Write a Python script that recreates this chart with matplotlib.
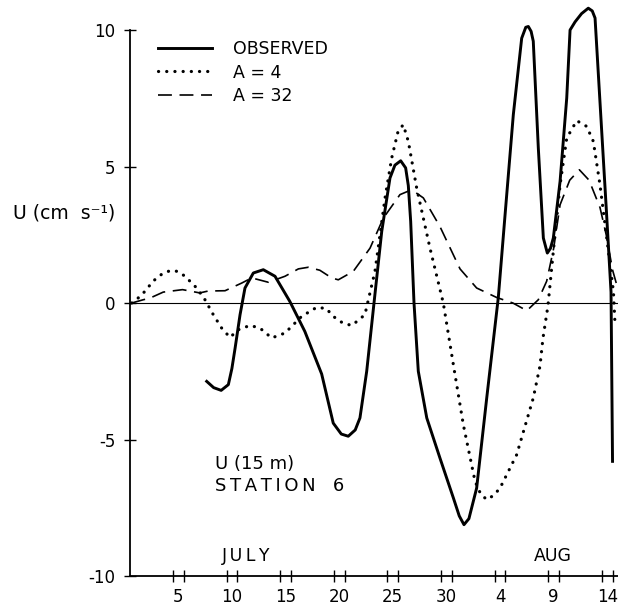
import numpy as np
import matplotlib
matplotlib.use("Agg")
import matplotlib.pyplot as plt

# day of record (July 1 = 1, Aug 1 = 32) and U (cm/s)
obs_day = [7.65, 8.3, 9.0, 9.67, 10.0, 10.3, 10.76, 11.22, 12.0, 12.93, 14.02,
           15.4, 16.8, 18.37, 19.45, 20.2, 20.85, 21.5, 21.94, 22.57, 23.25,
           23.97, 24.74, 25.2, 25.74, 26.2, 26.45, 26.67, 26.98, 27.38, 28.17,
           29.4, 30.65, 31.2, 31.64, 32.1, 32.82, 33.76, 34.84, 35.47, 36.24,
           37.02, 37.4, 37.64, 37.9, 38.1, 38.57, 39.04, 39.41, 39.7, 39.97,
           40.6, 41.22, 41.53, 42.0, 42.6, 43.23, 43.6, 43.86, 44.3, 44.9,
           45.35, 45.49]
obs_u = [-2.87, -3.1, -3.2, -2.99, -2.4, -1.65, -0.43, 0.55, 1.1, 1.22, 0.98,
         0.06, -1.04, -2.6, -4.4, -4.8, -4.88, -4.65, -4.21, -2.5, 0.0,
         2.62, 4.58, 5.05, 5.21, 4.95, 4.3, 2.99, 0.0, -2.5, -4.21,
         -5.68, -7.14, -7.8, -8.12, -7.9, -6.78, -3.48, 0.2, 3.23, 6.9,
         9.7, 10.1, 10.13, 9.95, 9.59, 5.68, 2.38, 1.83, 2.0, 2.38,
         4.46, 7.51, 10.0, 10.3, 10.6, 10.8, 10.7, 10.44, 7.5, 3.5,
         0.4, -5.8]

a4_day = [0.66, 1.25, 1.9, 2.65, 3.6, 4.39, 5.0, 5.63, 6.72, 7.49, 8.27, 9.05,
          9.82, 10.6, 11.69, 12.62, 13.71, 14.95, 16.5, 17.9, 18.8, 19.45,
          20.4, 21.2, 22.4, 23.34, 24.28, 24.9, 25.5, 25.98, 26.45, 27.23,
          28.47, 29.71, 30.65, 31.58, 32.67, 33.2, 33.76, 34.4, 35.0, 36.55,
          38.1, 38.73, 39.0, 39.47, 39.97, 40.6, 41.22, 42.15, 43.08, 43.7,
          44.32, 44.95, 45.57, 45.7]
a4_u = [0.0, 0.18, 0.43, 0.8, 1.1, 1.2, 1.15, 0.98, 0.55, 0.12, -0.43, -0.92,
        -1.26, -0.98, -0.82, -0.92, -1.28, -1.1, -0.49, -0.16, -0.2, -0.49,
        -0.75, -0.82, -0.43, 1.16, 3.85, 5.31, 6.3, 6.53, 5.92, 4.21,
        2.01, 0.0, -2.26, -4.46, -6.53, -7.0, -7.2, -7.05, -6.78, -5.56,
        -3.48, -2.3, -1.3, -0.1, 1.89, 4.33, 6.04, 6.68, 6.47, 5.92,
        4.33, 2.38, 0.43, -0.6]

a32_day = [0.66, 1.74, 2.36, 3.6, 5.4, 7.0, 7.8, 9.36, 10.91, 11.85, 13.4,
           14.95, 16.2, 17.13, 18.2, 19.3, 19.92, 21.32, 22.88, 24.12, 25.67,
           26.76, 27.85, 29.4, 31.27, 32.82, 34.7, 36.2, 37.5, 38.57, 39.35,
           40.0, 40.6, 41.5, 42.4, 43.3, 44.32, 44.9, 45.5, 46.0]
a32_u = [0.0, 0.12, 0.18, 0.4, 0.49, 0.37, 0.44, 0.45, 0.73, 0.92, 0.76,
         0.98, 1.25, 1.31, 1.2, 0.92, 0.85, 1.16, 2.01, 3.11, 3.97,
         4.15, 3.85, 2.8, 1.25, 0.55, 0.2, 0.0, -0.28, 0.12, 0.8,
         2.0, 3.6, 4.5, 4.88, 4.5, 3.5, 2.5, 1.2, 0.5]

tick_days = [5, 10, 15, 20, 25, 30, 35, 40, 45]
tick_labels = ["5", "10", "15", "20", "25", "30", "4", "9", "14"]
y_ticks = [-10, -5, 0, 5, 10]
y_labels = ["-10", "-5", "0", "5", "10"]

plt.rcParams["font.family"] = "DejaVu Sans"
plt.rcParams["lines.scale_dashes"] = False

THIN = "\u2009"


def spaced(s):
    # lettering in the original is set wide
    return THIN.join(s)


fig = plt.figure(figsize=(6.18, 6.07), dpi=100)
ax = fig.add_axes([130 / 618, 31 / 607, 488 / 618, 576 / 607])

ax.axhline(0, color="black", linewidth=0.8)
ax.plot(obs_day, obs_u, color="black", linewidth=2.1, label="OBSERVED")
ax.plot(a4_day, a4_u, color="black", linewidth=2.3,
        linestyle=(0, (0.1, 5.8)), dash_capstyle="round", label="A = 4")
ax.plot(a32_day, a32_u, color="black", linewidth=1.2,
        linestyle=(0, (10, 5.5)), label="A = 32")

ax.set_xlim(0.5, 46.0)
ax.set_ylim(-10, 11.1)
for s in ["top", "right"]:
    ax.spines[s].set_visible(False)
ax.spines["left"].set_bounds(-10, 10)
ax.spines["left"].set_linewidth(1.3)
ax.spines["bottom"].set_linewidth(1.3)

ax.set_yticks(y_ticks)
ax.set_yticklabels(y_labels)
ax.tick_params(axis="y", direction="inout", length=9, width=1.0,
               labelsize=12, pad=6)
ax.set_xticks(tick_days)
ax.set_xticklabels(tick_labels)
ax.set_xticks([d + o for d in tick_days for o in (-0.5, 0.5)], minor=True)
ax.tick_params(axis="x", which="major", length=0, labelsize=12, pad=9)
ax.tick_params(axis="x", which="minor", direction="inout", length=9, width=1.0)

ax.legend(loc="upper left", bbox_to_anchor=(0.057, 0.93), frameon=False,
          fontsize=12.5, handlelength=3.1, handletextpad=1.25,
          labelspacing=0.3, borderpad=0, borderaxespad=0)

fig.text(13 / 618, 1 - 213 / 607, "U (cm  s\u207b\u00b9)", fontsize=13.5,
         ha="left", va="center")
ax.text(8.4, -6.3, "U (15 m)\n" + spaced("STATION") + "   6", fontsize=13,
        ha="left", va="center", linespacing=1.3)
ax.text(9.1, -9.25, spaced("JULY"), fontsize=12.5, ha="left", va="center")
ax.text(38.2, -9.25, "AUG", fontsize=12.5, ha="left", va="center")

fig.savefig("out.png", dpi=100)
